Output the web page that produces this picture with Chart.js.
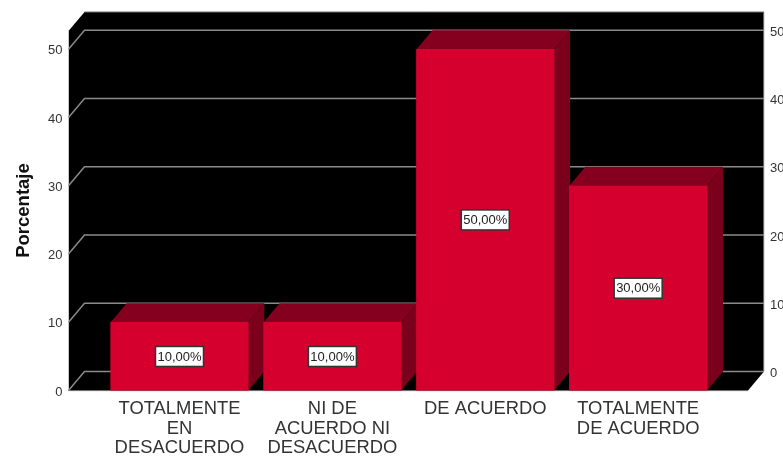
<!DOCTYPE html>
<html>
<head>
<meta charset="utf-8">
<style>
  html, body { margin: 0; padding: 0; background: #fff; }
  #wrap { position: relative; width: 783px; height: 456px; overflow: hidden; }
</style>
<script src="https://cdn.jsdelivr.net/npm/chart.js@4/dist/chart.umd.min.js"></script>
</head>
<body>
<div id="wrap"><canvas id="myChart" width="783" height="456"></canvas></div>
<script>
var categories = [
  ["TOTALMENTE", "EN", "DESACUERDO"],
  ["NI DE", "ACUERDO NI", "DESACUERDO"],
  ["DE ACUERDO"],
  ["TOTALMENTE", "DE ACUERDO"]
];
var porcentaje = [10, 10, 50, 30];
var valueLabels = ["10,00%", "10,00%", "50,00%", "30,00%"];
var tickValues = [0, 10, 20, 30, 40, 50];

// depth of the 3d box, px
var depthX = 16;
var depthY = 19;

var barFront = "#d6002f";
var barSide = "#7a001c";
var barTop = "#85001f";
var gridColor = "#8a8a8a";

function line(ctx, x1, y1, x2, y2) {
  ctx.beginPath();
  ctx.moveTo(x1, y1);
  ctx.lineTo(x2, y2);
  ctx.stroke();
}

function noPadding(s) {
  s.paddingTop = 0;
  s.paddingBottom = 0;
  s.paddingLeft = 0;
  s.paddingRight = 0;
}

var wall3d = {
  id: "wall3d",
  beforeDatasetsDraw: function(chart) {
    var ctx = chart.ctx;
    var y = chart.scales.y;
    var a = chart.chartArea;
    var l = a.left, r = a.right, t = a.top, b = a.bottom;

    ctx.save();
    ctx.fillStyle = "#000";
    ctx.beginPath();
    ctx.moveTo(l, t + depthY);
    ctx.lineTo(l + depthX, t);
    ctx.lineTo(r, t);
    ctx.lineTo(r, b - depthY);
    ctx.lineTo(r - depthX, b);
    ctx.lineTo(l, b);
    ctx.closePath();
    ctx.fill();

    ctx.lineWidth = 1;
    ctx.strokeStyle = "#c8c8c8";
    line(ctx, l, t + depthY, l, b);
    line(ctx, r, t, r, b - depthY);
    ctx.strokeStyle = "#6e6e6e";
    line(ctx, l + depthX, t, r, t);
    line(ctx, l, b, r - depthX, b);

    ctx.strokeStyle = gridColor;
    ctx.lineWidth = 1.5;
    tickValues.forEach(function(v) {
      var py = y.getPixelForValue(v);
      ctx.beginPath();
      ctx.moveTo(l, py);
      ctx.lineTo(l + depthX, py - depthY);
      ctx.lineTo(r, py - depthY);
      ctx.stroke();
    });

    // bar sides and tops
    chart.getDatasetMeta(0).data.forEach(function(bar) {
      var x2 = bar.x + bar.width / 2;
      var x1 = bar.x - bar.width / 2;
      ctx.fillStyle = barSide;
      ctx.beginPath();
      ctx.moveTo(x2, bar.y);
      ctx.lineTo(x2 + depthX, bar.y - depthY);
      ctx.lineTo(x2 + depthX, bar.base - depthY);
      ctx.lineTo(x2, bar.base);
      ctx.closePath();
      ctx.fill();
      ctx.fillStyle = barTop;
      ctx.beginPath();
      ctx.moveTo(x1, bar.y);
      ctx.lineTo(x1 + depthX, bar.y - depthY);
      ctx.lineTo(x2 + depthX, bar.y - depthY);
      ctx.lineTo(x2, bar.y);
      ctx.closePath();
      ctx.fill();
    });
    ctx.restore();
  },
  afterDatasetsDraw: function(chart) {
    var ctx = chart.ctx;
    ctx.save();
    ctx.font = "13px 'Liberation Sans'";
    ctx.textAlign = "center";
    ctx.textBaseline = "middle";
    chart.getDatasetMeta(0).data.forEach(function(bar, i) {
      var cy = (bar.y + bar.base) / 2;
      var w = 48, h = 20;
      ctx.fillStyle = "#fff";
      ctx.fillRect(bar.x - w / 2, cy - h / 2, w, h);
      ctx.strokeStyle = "#333";
      ctx.lineWidth = 1.5;
      ctx.strokeRect(bar.x - w / 2, cy - h / 2, w, h);
      ctx.fillStyle = "#222";
      ctx.fillText(valueLabels[i], bar.x, cy + 0.5);
    });

    // axis title sits lower than the scale centre
    ctx.translate(23.5, 210.5);
    ctx.rotate(-Math.PI / 2);
    ctx.font = "bold 18.5px 'Liberation Sans'";
    ctx.fillStyle = "#111";
    ctx.fillText("Porcentaje", 0, 0);
    ctx.restore();
  }
};

new Chart("myChart", {
  type: "bar",
  plugins: [wall3d],
  data: {
    datasets: [{
      label: "Porcentaje",
      data: porcentaje.map(function(v, i) { return { x: i, y: v }; }),
      backgroundColor: barFront,
      borderWidth: 0,
      barThickness: 137.6
    }]
  },
  options: {
    responsive: false,
    animation: false,
    layout: { autoPadding: false, padding: { left: 0, right: 0, top: 12, bottom: 0 } },
    plugins: { legend: { display: false }, tooltip: { enabled: false } },
    scales: {
      x: {
        type: "linear",
        offset: false,
        min: -0.726,
        max: 3.823,
        grid: { display: false, drawTicks: false },
        border: { display: false },
        afterBuildTicks: function(s) { s.ticks = [0, 1, 2, 3].map(function(v) { return { value: v }; }); },
        afterFit: function(s) { s.height = 65.4; noPadding(s); },
        ticks: {
          autoSkip: false,
          maxRotation: 0,
          minRotation: 0,
          padding: 9,
          color: "#333",
          font: { family: "'Liberation Sans'", size: 18.4, lineHeight: 1.05 },
          callback: function(v) { return categories[v]; }
        }
      },
      y: {
        min: 0,
        max: 55.46,
        grid: { display: false, drawTicks: false },
        border: { display: false },
        afterBuildTicks: function(s) { s.ticks = tickValues.map(function(v) { return { value: v }; }); },
        afterFit: function(s) { s.width = 68.5; noPadding(s); },
        ticks: {
          color: "#333",
          padding: 6,
          labelOffset: 1.5,
          font: { family: "'Liberation Sans'", size: 13 }
        }
      },
      y2: {
        position: "right",
        min: -2.78,
        max: 52.68,
        grid: { display: false, drawTicks: false },
        border: { display: false },
        afterBuildTicks: function(s) { s.ticks = tickValues.map(function(v) { return { value: v }; }); },
        afterFit: function(s) { s.width = 19; noPadding(s); },
        ticks: {
          color: "#333",
          padding: 6,
          labelOffset: 2,
          font: { family: "'Liberation Sans'", size: 13 }
        }
      }
    }
  }
});
</script>
</body>
</html>
